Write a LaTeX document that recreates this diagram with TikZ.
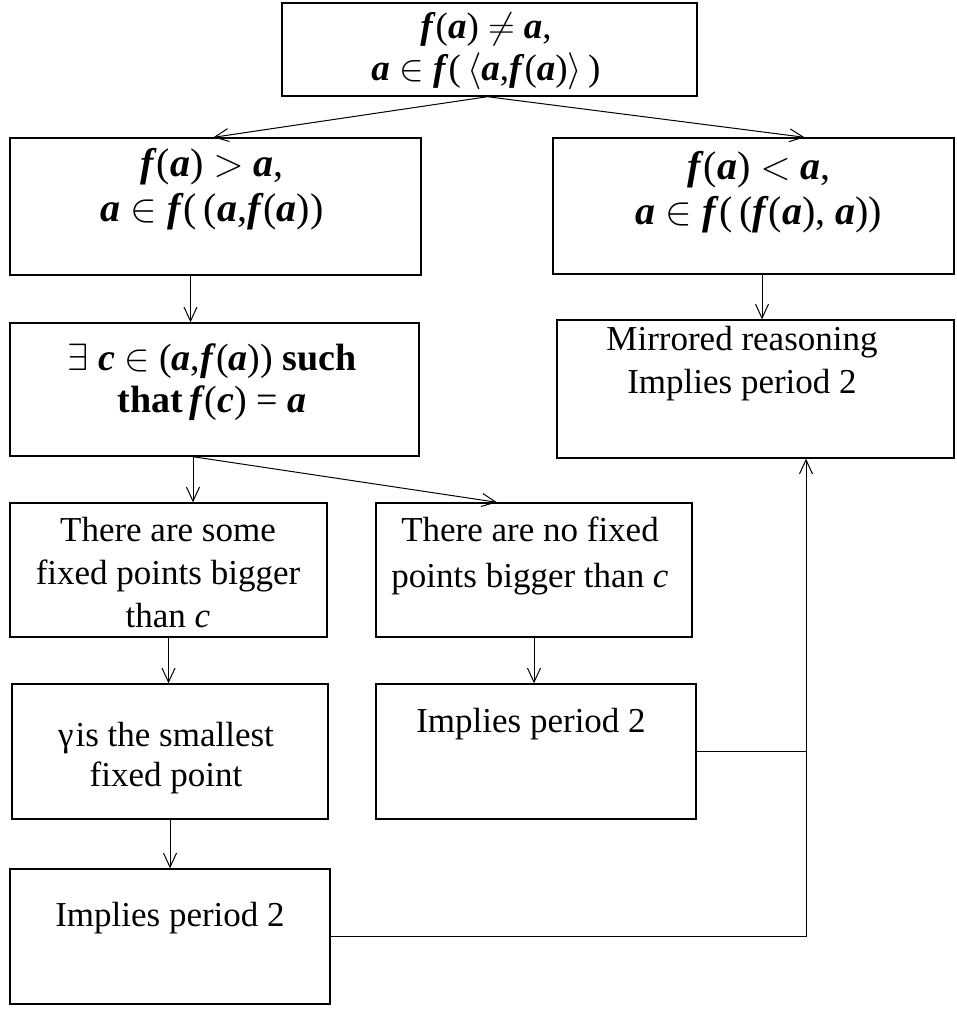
\RequirePackage{fix-cm}
\documentclass[tikz,border=0pt]{standalone}
\usepackage{fontspec}
\setmainfont{Liberation Serif}
\usetikzlibrary{arrows.meta,calc,fit}
\newcommand{\bi}[1]{\textbf{\textit{#1}}}
\tikzset{
  box/.style={draw, line width=1.4pt, inner sep=0pt},
  txt/.style={align=center, inner sep=0pt, font=\fontsize{35}{43}\selectfont},
  arr/.style={line width=1pt, -{Straight Barb[length=14pt,width=13pt,line width=1pt]}},
  ln/.style={line width=1pt}
}
\begin{document}
\begin{tikzpicture}[x=1pt,y=-1pt]
\useasboundingbox (0,0) rectangle (956,1009);
% boxes
\node[box, fit={(282,3) (697,96)}] (top) {};
\node[box, fit={(10,138) (421,275)}] (l2) {};
\node[box, fit={(553,138) (954,274)}] (r2) {};
\node[box, fit={(10,323) (419,456)}] (l3) {};
\node[box, fit={(557,320) (954,458)}] (r3) {};
\node[box, fit={(10,503) (327,637)}] (l4) {};
\node[box, fit={(376,503) (692,637)}] (m4) {};
\node[box, fit={(12,684) (328,819)}] (l5) {};
\node[box, fit={(376,684) (696,819)}] (m5) {};
\node[box, fit={(10,869) (330,1004)}] (l6) {};
% texts
\node[txt, font=\fontsize{37}{41.5}\selectfont] (ttop) at (486,51)
  {\bi{f}(\bi{a})~$\neq$~\bi{a},\\ \bi{a}~$\in$~\bi{f}(\,$\langle$\bi{a},\bi{f}(\bi{a})$\rangle$\,)};
\node[txt, font=\fontsize{40}{45}\selectfont] (tl2) at (212,189)
  {\bi{f}(\bi{a})~$>$~\bi{a},\\ \bi{a}~$\in$~\bi{f}(\,(\bi{a},\bi{f}(\bi{a}))};
\node[txt, font=\fontsize{40}{45}\selectfont] (tr2) at (759,192)
  {\bi{f}(\bi{a})~$<$~\bi{a},\\ \bi{a}~$\in$~\bi{f}(\,(\bi{f}(\bi{a}), \bi{a}))};
\node[txt, font=\fontsize{38}{42.5}\selectfont] (tl3) at (212,382)
  {$\exists$~\bi{c}~$\in$~(\bi{a},\bi{f}(\bi{a}))~\textbf{such}\\ \textbf{that}\,\bi{f}(\bi{c})~=~\bi{a}};
\node[txt] (tr3) at (742,364) {Mirrored reasoning\\Implies period 2};
\node[txt] (tl4) at (168,573) {There are some\\fixed points bigger\\than \textit{c}};
\node[txt, font=\fontsize{35}{46}\selectfont] (tm4) at (530,556) {There are no fixed\\points bigger than \textit{c}};
\node[txt, font=\fontsize{35}{40}\selectfont] (tl5) at (166,758) {γ\hspace{2pt}is the smallest\\fixed point};
\node[txt] (tm5) at (531,724) {Implies period 2};
\node[txt] (tl6) at (170,918) {Implies period 2};
% connectors
\draw[arr] ($(top.south)+(-2,0)$) -- ($(l2.north)+(-2,0)$);
\draw[arr] ($(top.south)+(-2,0)$) -- ($(r2.north)+(51,0)$);
\coordinate (a23) at ($(l2.south)+(-25,0)$);
\draw[arr] (a23) -- (a23 |- l3.north);
\coordinate (ar23) at ($(r2.south)+(8.5,0)$);
\draw[arr] (ar23) -- (ar23 |- r3.north);
\coordinate (a34) at ($(l3.south)+(-21.5,0)$);
\draw[arr] (a34) -- (a34 |- l4.north);
\draw[arr] (a34) -- ($(m4.north)+(-37,0)$);
\coordinate (a45) at ($(l4.south)+(0,0)$);
\draw[arr] (a45) -- (a45 |- l5.north);
\draw[arr] (m4.south) -- (m4.south |- m5.north);
\draw[arr] (l5.south) -- (l6.north);
\coordinate (up) at ($(r3.south)+(50.5,0)$);
\draw[ln] (m5.east) -- (m5.east -| up);
\draw[ln] (l6.east) -- (l6.east -| up);
\draw[arr] (l6.east -| up) -- (up);
\end{tikzpicture}
\end{document}
